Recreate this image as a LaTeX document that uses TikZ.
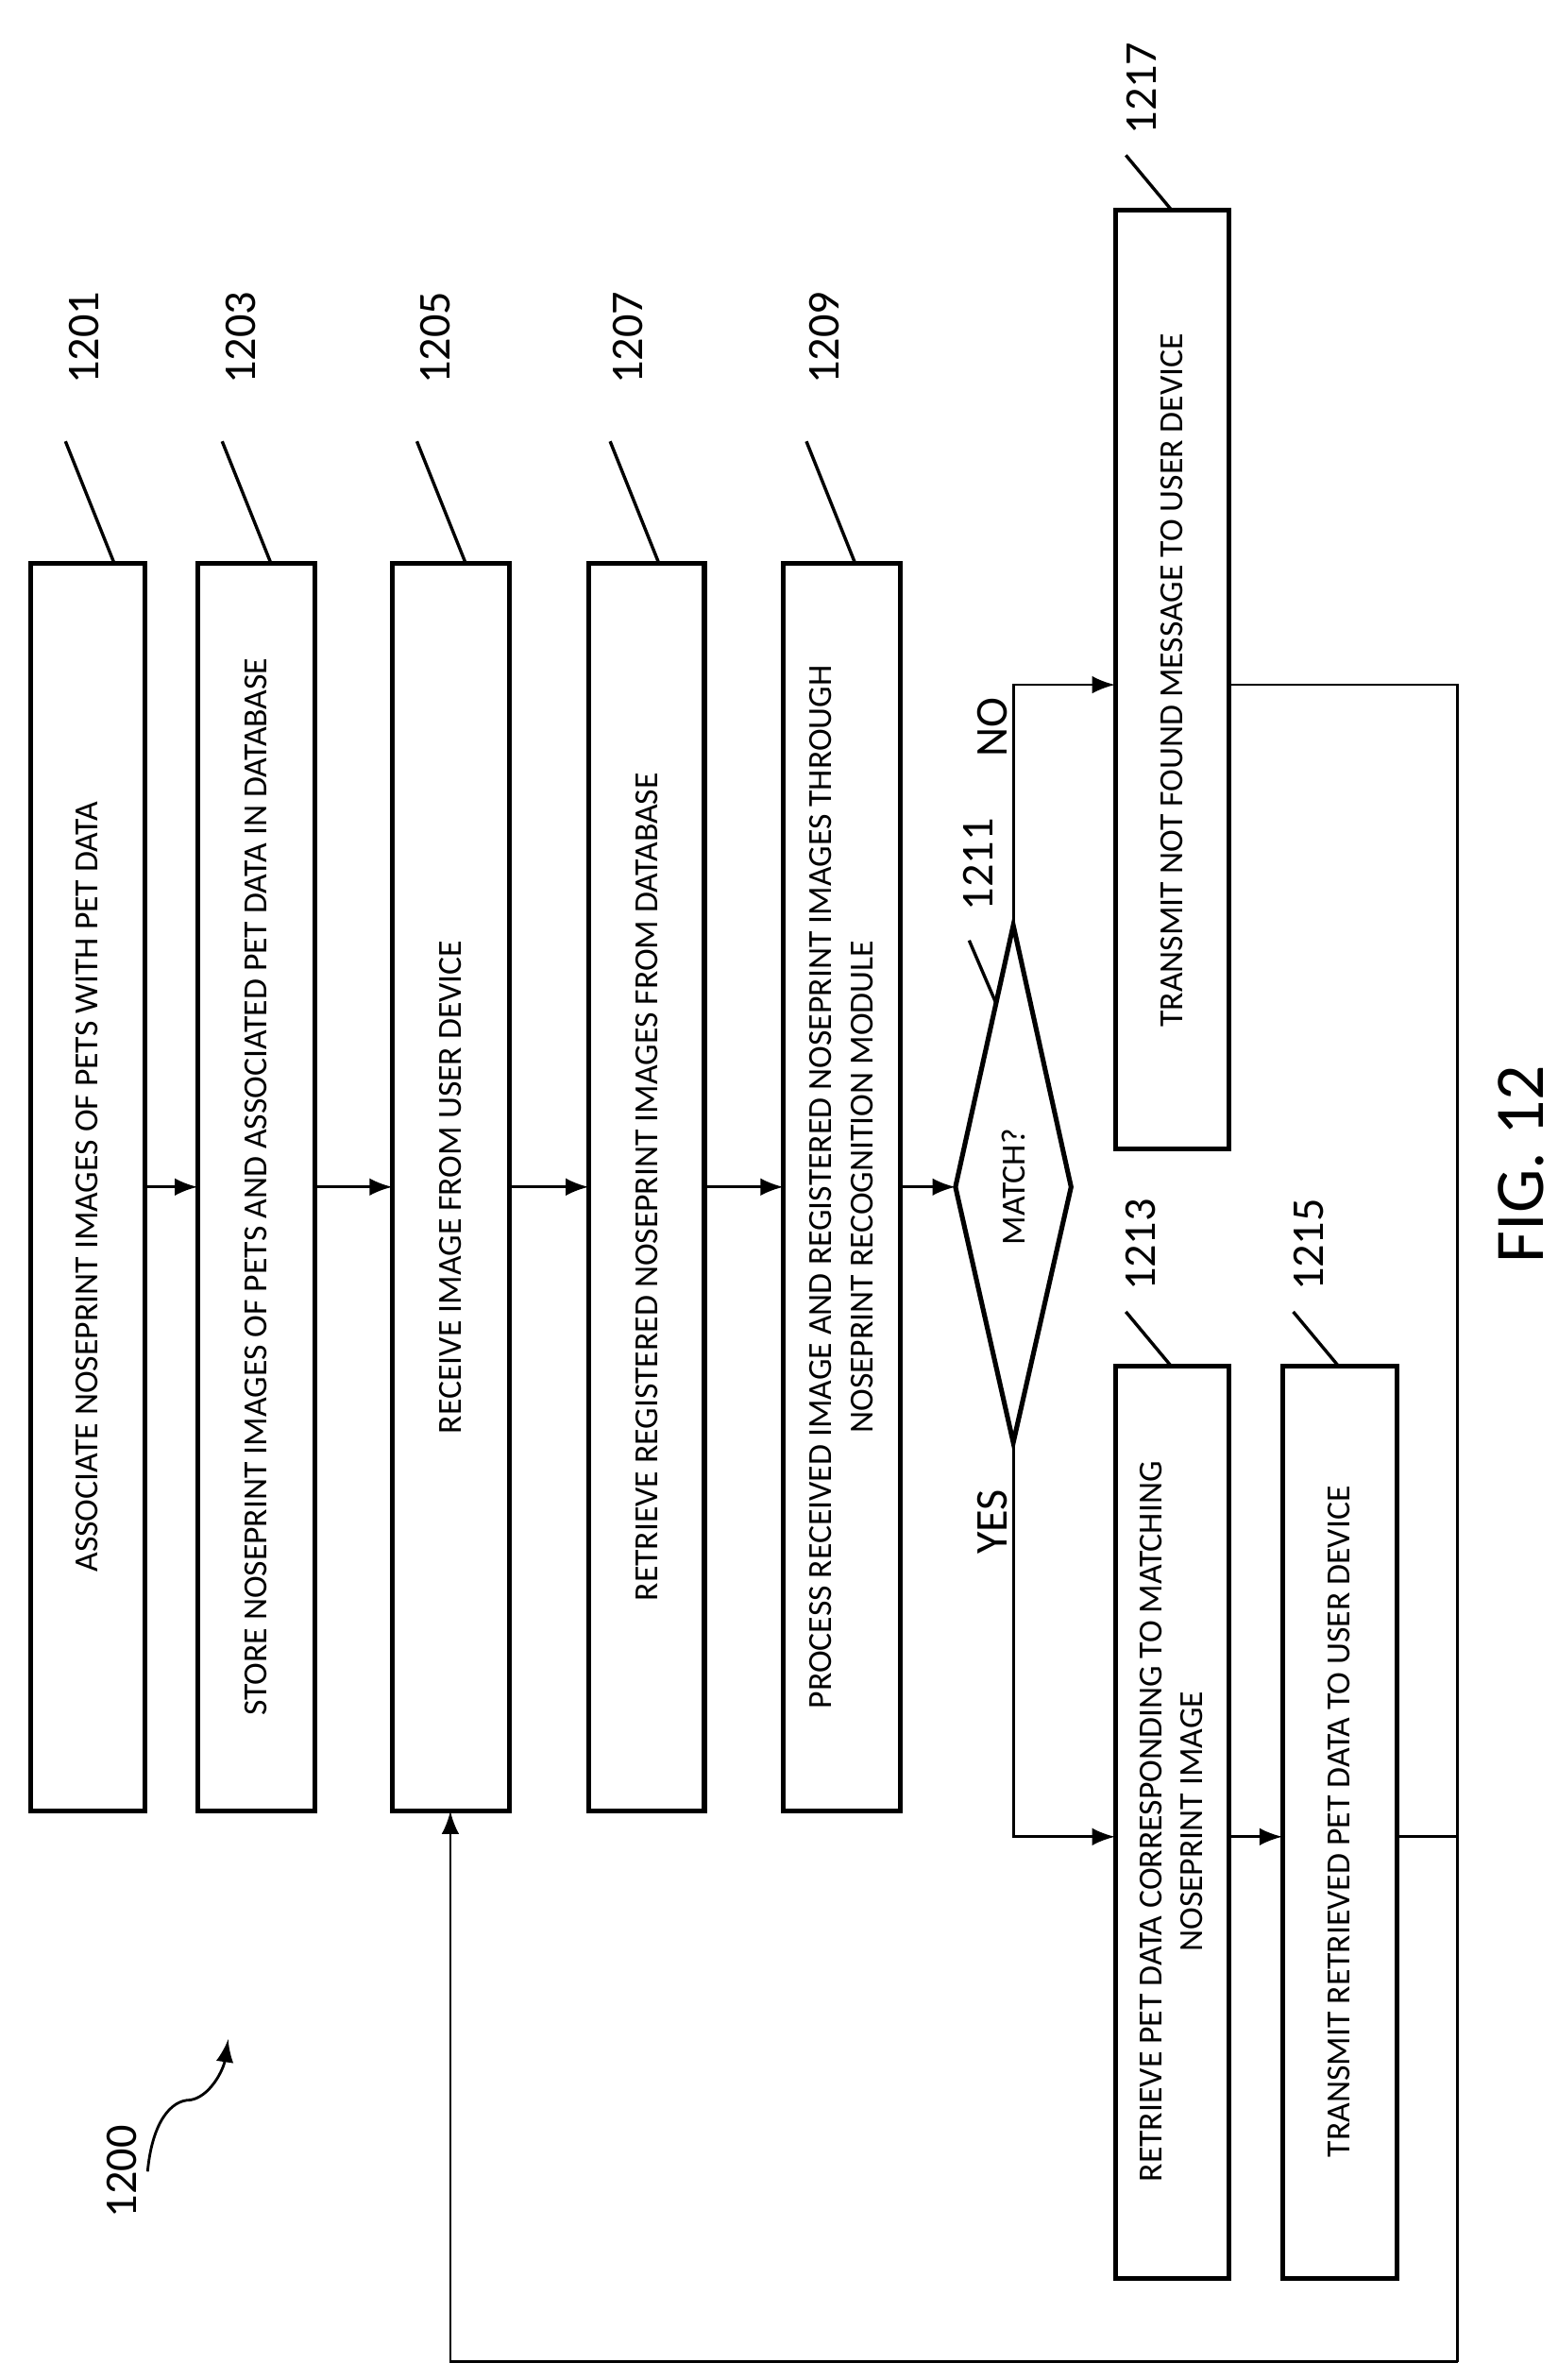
\documentclass[tikz,border=0pt]{standalone}
\usepackage{fontspec}
\setmainfont{Carlito}
\begin{document}
\begin{tikzpicture}[x=0.01cm,y=-0.01cm,line width=0.5pt,
  box/.style={draw,line width=0.9pt},
  txt/.style={rotate=90,align=center,font=\fontsize{6.3}{7.6}\selectfont,inner sep=0},
  lab/.style={rotate=90,font=\fontsize{8.5}{9}\selectfont,inner sep=1pt},
  arr/.style={-latex},
  ld/.style={line width=0.6pt}]
\useasboundingbox (0,0) rectangle (1024,1564);
\draw[box] (20,370) rectangle (95,1190); \node[txt] (t1) at (57,780) {ASSOCIATE NOSEPRINT IMAGES OF PETS WITH PET DATA};
\draw[box] (130,370) rectangle (207,1190); \node[txt] (t3) at (168,780) {STORE NOSEPRINT IMAGES OF PETS AND ASSOCIATED PET DATA IN DATABASE};
\draw[box] (258,370) rectangle (335,1190); \node[txt] (t5) at (296,780) {RECEIVE IMAGE FROM USER DEVICE};
\draw[box] (387,370) rectangle (463,1190); \node[txt] (t7) at (425,780) {RETRIEVE REGISTERED NOSEPRINT IMAGES FROM DATABASE};
\draw[box] (515,370) rectangle (592,1190); \node[txt] (t9) at (553,780) {PROCESS RECEIVED IMAGE AND REGISTERED NOSEPRINT IMAGES THROUGH\\NOSEPRINT RECOGNITION MODULE};
\draw[box] (666,608) -- (704,780) -- (666,948) -- (628,780) -- cycle; \node[txt] (t11) at (666,780) {MATCH?};
\draw[box] (733,138) rectangle (808,755); \node[txt] (t17) at (770,447) {TRANSMIT NOT FOUND MESSAGE TO USER DEVICE};
\draw[box] (733,898) rectangle (808,1497); \node[txt] (t13) at (770,1197) {RETRIEVE PET DATA CORRESPONDING TO MATCHING\\NOSEPRINT IMAGE};
\draw[box] (843,898) rectangle (918,1497); \node[txt] (t15) at (880,1197) {TRANSMIT RETRIEVED PET DATA TO USER DEVICE};
\foreach \a/\b in {95/130,207/258,335/387,463/515,592/628} \draw[arr] (\a,780) -- (\b,780);
\draw[arr] (666,608) -- (666,450) -- (733,450);
\draw[arr] (666,948) -- (666,1207) -- (733,1207);
\draw[arr] (808,1207) -- (843,1207);
\draw (808,450) -- (958,450) -- (958,1552);
\draw (918,1207) -- (958,1207);
\draw[arr] (958,1552) -- (296,1552) -- (296,1190);
\node[lab] at (652,478) {NO};
\node[lab] at (652,1000) {YES};
\foreach \x/\n in {75/1201,178/1203,306/1205,433/1207,562/1209} {
  \node[lab] at (\x-20,222) {\n};
  \draw[ld] (\x-32,290) -- (\x,370);
}
\node[lab] at (643,568) {1211};
\draw[ld] (637,618) -- (655,660);
\node[lab] at (750,818) {1213}; \draw[ld] (740,862) -- (770,898);
\node[lab] at (860,818) {1215}; \draw[ld] (850,862) -- (880,898);
\node[lab] at (750,58) {1217}; \draw[ld] (740,102) -- (770,138);
\node[lab] at (80,1427) {1200};
\draw[arr] (97,1427) .. controls (100,1395) and (112,1380) .. (125,1380) .. controls (138,1378) and (147,1360) .. (150,1340);
\node[rotate=90,font=\fontsize{13}{14}\selectfont] at (1000,765) {FIG. 12};
\end{tikzpicture}
\end{document}
